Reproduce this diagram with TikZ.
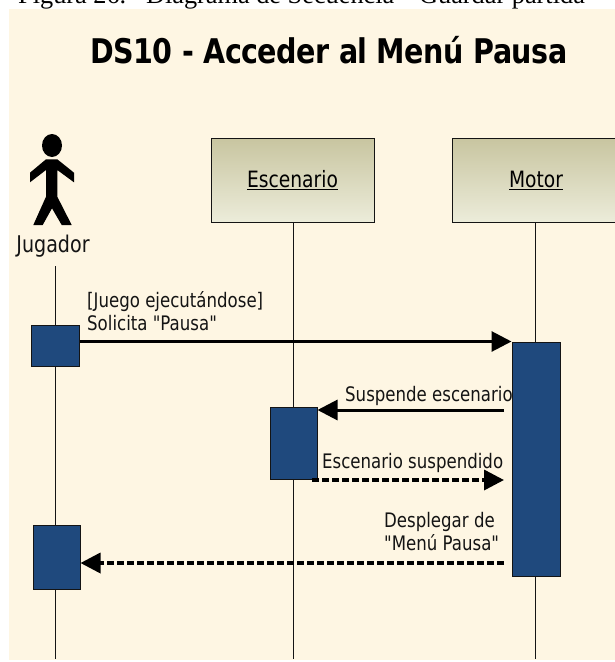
\documentclass[tikz,border=0pt]{standalone}
\usepackage{fontspec}
\setmainfont{Liberation Serif}
\newfontfamily\diagramfont[FakeStretch=0.83]{DejaVu Sans}
\newfontfamily\titlefont[FakeStretch=0.84,LetterSpace=-1.5]{DejaVu Sans Bold}
\usetikzlibrary{arrows.meta}
\definecolor{paper}{RGB}{254,246,227}
\definecolor{actblue}{RGB}{31,73,125}
\definecolor{boxtop}{RGB}{200,197,160}
\definecolor{boxbottom}{RGB}{236,236,218}
\definecolor{ink}{RGB}{20,20,20}
\tikzset{
    objbox/.style={draw=ink, line width=1pt, top color=boxtop, bottom color=boxbottom, minimum height=84pt, inner sep=0pt, font=\diagramfont\fontsize{22.5}{26}\selectfont},
    activation/.style={draw=ink, line width=1pt, fill=actblue, inner sep=0pt},
    lifeline/.style={draw=ink, line width=1pt},
    msgtext/.style={font=\diagramfont\fontsize{20}{23}\selectfont, text=ink, inner sep=0pt, align=left},
    call/.style={line width=3pt, -{Triangle[length=20pt,width=20pt]}},
    reply/.style={call, line width=3.5pt, dash pattern=on 7pt off 3pt}
}
\begin{document}
\begin{tikzpicture}[x=1pt, y=-1pt]
    \useasboundingbox (0,0) rectangle (615,662);

    % Background and caption
    \fill[paper] (9,9) rectangle (615,660);
    \node[anchor=base west, inner sep=0pt, font=\fontsize{26.3}{30}\selectfont] (caption) at (18,3.5) {Figura 26.\ \ \ Diagrama de Secuencia\ \ ``Guardar partida''};
    \node[anchor=base west, inner sep=0pt, font=\titlefont\fontsize{34}{40}\selectfont] (title) at (90,63) {DS10 - Acceder al Menú Pausa};

    % Actor
    \fill[black] (52,145.5) ellipse (10 and 11.5);
    \fill[black] (46,159.3) -- (57.3,159.3) -- (74,172.7) -- (74,182.3) -- (57.3,170) -- (57.3,196.7)
        -- (71.7,225) -- (61.7,225) -- (52,208.3) -- (42.7,225) -- (33.3,225) -- (46,196.7)
        -- (46,170) -- (30,182.3) -- (30,172.7) -- cycle;
    \node[anchor=base, inner sep=0pt, text=ink, font=\diagramfont\fontsize{23}{26}\selectfont] (jugador) at (53,252) {Jugador};

    % Objects
    \node[objbox, minimum width=163pt] (escenario) at (292.5,180) {\underline{Escenario}};
    \node[objbox, minimum width=168pt] (motor) at (536,180) {\underline{Motor}};

    % Lifelines
    \coordinate (jugTop) at (55,266);
    \coordinate (jugEnd) at (55,659);
    \coordinate (escEnd) at (293,659);
    \coordinate (motEnd) at (535,659);
    \draw[lifeline] (jugTop) -- (jugEnd);
    \draw[lifeline] (escenario.south -| escEnd) -- (escEnd);
    \draw[lifeline] (motor.south -| motEnd) -- (motEnd);

    % Activations
    \node[activation, minimum width=48pt, minimum height=41pt] (jugA) at (55,345.5) {};
    \node[activation, minimum width=47pt, minimum height=64pt] (jugB) at (56.5,557) {};
    \node[activation, minimum width=47pt, minimum height=72pt] (escA) at (293.5,443) {};
    \node[activation, minimum width=48pt, minimum height=234pt] (motA) at (536,459) {};

    % Messages
    \coordinate (susA) at (504,410);
    \coordinate (susB) at (312,480);
    \coordinate (desA) at (504,563);
    \draw[call] (jugA.east |- motA.north) -- (motA.north west);
    \draw[call] (susA) -- (escA.east |- susA);
    \draw[reply] (susB) -- (susB -| susA);
    \draw[reply] (desA) -- (jugB.east |- desA);

    % Labels
    \node[msgtext, anchor=base west] (solicita) at (87,330.5) {[Juego ejecutándose]\\Solicita "Pausa"};
    \node[msgtext, anchor=base west] (suspende) at (345,401) {Suspende escenario};
    \node[msgtext, anchor=base west] (suspendido) at (322,468) {Escenario suspendido};
    \node[msgtext, anchor=base west] (desplegar) at (384,550) {Desplegar de\\"Menú Pausa"};
\end{tikzpicture}
\end{document}
